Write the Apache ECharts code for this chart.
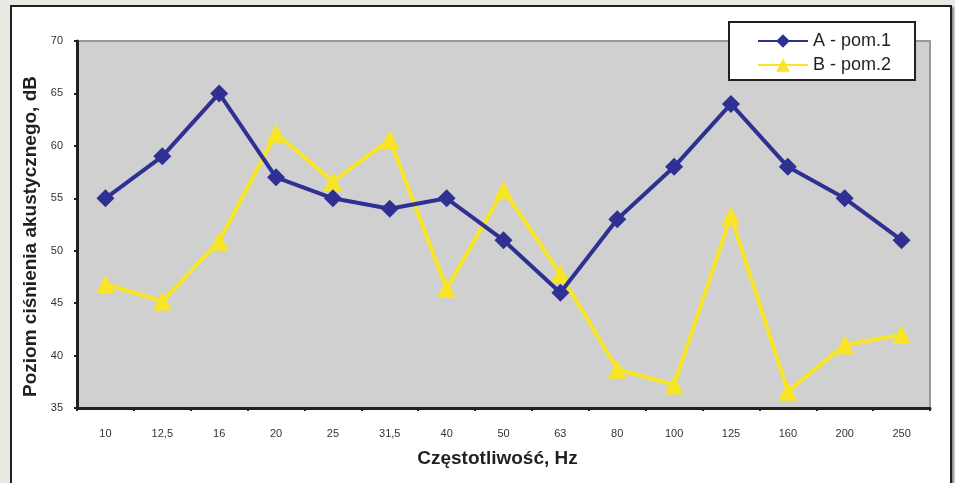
<!DOCTYPE html>
<html><head><meta charset="utf-8">
<script src="https://cdn.jsdelivr.net/npm/echarts@6/dist/echarts.min.js"></script>
<style>
html,body{margin:0;padding:0;background:#e9e8e2;}
#frame{position:absolute;left:10px;top:5px;width:938px;height:490px;border:2px solid #231f20;background:#fff;box-shadow:2px 2px 2px #888;}
#c{position:absolute;left:0;top:0;width:955px;height:483px;}
</style></head>
<body>
<div id="frame"></div>
<div id="c"></div>
<script>
const categories = ['10','12,5','16','20','25','31,5','40','50','63','80','100','125','160','200','250'];
const seriesA = [55, 59, 65, 57, 55, 54, 55, 51, 46, 53, 58, 64, 58, 55, 51];
const seriesB = [46.8, 45.2, 50.9, 61.2, 56.6, 60.6, 46.4, 55.8, 47.8, 38.7, 37.2, 53.3, 36.6, 41, 42];
const nameA = 'A - pom.1';
const nameB = 'B - pom.2';

const chart = echarts.init(document.getElementById('c'), null, {renderer:'canvas'});
chart.setOption({
  animation:false,
  textStyle:{fontFamily:'Liberation Sans, Arial, sans-serif'},
  grid:{left:77, top:41, right:25, bottom:75, show:true, backgroundColor:'#d0d0d0', borderColor:'#9a9a9a', borderWidth:2, containLabel:false},
  legend:{
    orient:'vertical', left:729, top:22,
    backgroundColor:'#fff', borderColor:'#231f20', borderWidth:2, borderRadius:0,
    padding:[10,24,6,28], itemGap:6, itemWidth:50, itemHeight:17,
    textStyle:{fontSize:18, color:'#231f20', fontFamily:'Liberation Sans, Arial, sans-serif'},
    data:[nameA, nameB]
  },
  xAxis:{
    type:'category', data:categories, boundaryGap:true,
    name:'Częstotliwość, Hz', nameLocation:'middle', nameGap:41,
    nameTextStyle:{fontSize:19, fontWeight:'bold', color:'#231f20', padding:[0,12,0,0]},
    axisLine:{lineStyle:{color:'#231f20', width:3}},
    axisTick:{show:true, interval:0, length:3, lineStyle:{color:'#231f20', width:2}},
    axisLabel:{fontSize:11, color:'#333', margin:20, interval:0},
    splitLine:{show:false}
  },
  yAxis:{
    type:'value', min:35, max:70, interval:5,
    name:'Poziom ciśnienia akustycznego, dB', nameLocation:'middle', nameGap:32,
    nameTextStyle:{fontSize:19, fontWeight:'bold', color:'#231f20', padding:[0,24,0,0]},
    axisLine:{show:true, lineStyle:{color:'#231f20', width:3}},
    axisTick:{show:true, length:3, lineStyle:{color:'#231f20', width:2}},
    axisLabel:{fontSize:11, color:'#333', margin:14},
    splitLine:{show:false}
  },
  series:[
    {name:nameA, type:'line', data:seriesA, symbol:'diamond', symbolSize:18,
     lineStyle:{color:'#2e3192', width:4}, itemStyle:{color:'#2e3192'}, z:3},
    {name:nameB, type:'line', data:seriesB, symbol:'triangle', symbolSize:19,
     lineStyle:{color:'#f7e526', width:4}, itemStyle:{color:'#f7e526'}, z:2}
  ]
});
</script>
</body></html>
